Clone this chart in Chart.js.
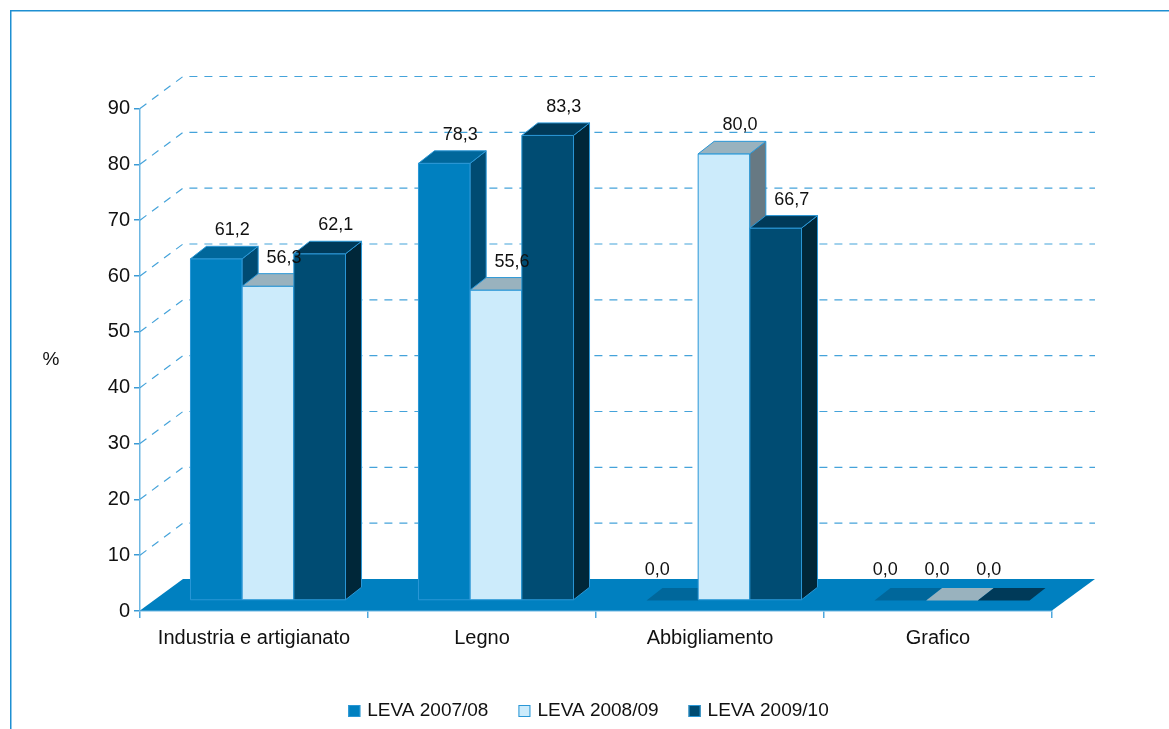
<!DOCTYPE html>
<html lang="it">
<head>
<meta charset="utf-8">
<title>LEVA per settore</title>
<script src="https://cdn.jsdelivr.net/npm/chart.js@4.4.1/dist/chart.umd.min.js"></script>
<style>
  html, body { margin: 0; padding: 0; background: #fff; }
  #wrap { width: 1169px; height: 729px; }
</style>
</head>
<body>
<div id="wrap"><canvas id="chart" width="1169" height="729"></canvas></div>
<script>
// ---- data ----
const categories = ['Industria e artigianato', 'Legno', 'Abbigliamento', 'Grafico'];
const leva0708 = [61.2, 78.3, 0.0, 0.0];
const leva0809 = [56.3, 55.6, 80.0, 0.0];
const leva0910 = [62.1, 83.3, 66.7, 0.0];
const seriesNames = ['LEVA 2007/08', 'LEVA 2008/09', 'LEVA 2009/10'];
const yAxisLabel = '%';

// ---- look ----
// face colours of each series: front, top, right side
const palette = [
  { front: '#0080C0', top: '#00679B', side: '#004B72' },
  { front: '#CCEBFB', top: '#99B2BE', side: '#677983' },
  { front: '#004C73', top: '#003A59', side: '#002739' }
];
const FONT = '"Liberation Sans", Arial, sans-serif';
const TEXT = '#111111';
const EDGE = '#2A97D6';
const FLOOR = { dx: 43, dy: -32 };        // depth of the floor / back wall
const BAR_SHIFT = { dx: 14, dy: -10.5 };  // bars stand in the middle of the depth
const BAR_DEPTH = { dx: 16, dy: -12.5 };  // thickness of each bar

function fmt(v) { return v.toFixed(1).replace('.', ','); }

function poly(c, pts, fill, stroke) {
  c.beginPath();
  c.moveTo(pts[0][0], pts[0][1]);
  for (let k = 1; k < pts.length; k++) c.lineTo(pts[k][0], pts[k][1]);
  c.closePath();
  c.fillStyle = fill;
  c.fill();
  if (stroke) { c.strokeStyle = stroke; c.stroke(); }
}

// Draws the pseudo-3D scene (back wall grid, floor, boxes, value labels)
// from the bar elements that Chart.js laid out on its scales.
const scene3d = {
  id: 'scene3d',
  beforeDraw(chart) {
    const c = chart.ctx;
    c.save();
    c.fillStyle = '#ffffff';
    c.fillRect(0, 0, chart.width, chart.height);
    c.strokeStyle = '#1E8FD2';
    c.lineWidth = 1.5;
    c.strokeRect(10.75, 10.75, chart.width + 20, chart.height + 20);
    c.restore();
  },
  beforeDatasetsDraw(chart) {
    const c = chart.ctx, ys = chart.scales.y;
    const L = chart.chartArea.left, R = chart.chartArea.right;
    const y0 = ys.getPixelForValue(0);
    c.save();

    // dashed grid on the left and back walls
    c.strokeStyle = '#45A3DA';
    c.lineWidth = 1.2;
    c.setLineDash([8, 7]);
    ys.ticks.forEach(t => {
      if (t.value === 0) return;
      const py = ys.getPixelForValue(t.value);
      c.beginPath();
      c.moveTo(L, py);
      c.lineTo(L + FLOOR.dx, py + FLOOR.dy);
      c.lineTo(R + FLOOR.dx, py + FLOOR.dy);
      c.stroke();
    });
    c.setLineDash([]);

    // floor
    poly(c, [[L, y0 - 0.5], [L + FLOOR.dx, y0 + FLOOR.dy], [R + FLOOR.dx, y0 + FLOOR.dy], [R, y0 - 0.5]], palette[0].front);

    // boxes, left to right so each hides its neighbour's side
    const items = [];
    chart.data.datasets.forEach((ds, d) => {
      chart.getDatasetMeta(d).data.forEach((el, i) => items.push({ el, d, v: ds.data[i] }));
    });
    items.sort((a, b) => a.el.x - b.el.x);

    c.lineWidth = 1;
    c.lineJoin = 'round';
    items.forEach(({ el, d, v }) => {
      const p = palette[d];
      const hw = el.width / 2;
      const x0 = el.x - hw + BAR_SHIFT.dx, x1 = el.x + hw + BAR_SHIFT.dx;
      const ft = el.y + BAR_SHIFT.dy, fb = el.base + BAR_SHIFT.dy;
      const bx = BAR_DEPTH.dx, by = BAR_DEPTH.dy;
      const solid = fb - ft > 0.5;
      const edge = solid ? EDGE : null;
      if (solid) {
        poly(c, [[x0, ft], [x1, ft], [x1, fb], [x0, fb]], p.front, edge);
        poly(c, [[x1, ft], [x1 + bx, ft + by], [x1 + bx, fb + by], [x1, fb]], p.side, edge);
      }
      poly(c, [[x0, ft], [x0 + bx, ft + by], [x1 + bx, ft + by], [x1, ft]], p.top, edge);
    });

    // value labels
    c.fillStyle = TEXT;
    c.font = '18px ' + FONT;
    c.textAlign = 'center';
    c.textBaseline = 'middle';
    items.forEach(({ el, v }) => {
      const fx = el.x + BAR_SHIFT.dx, ft = el.y + BAR_SHIFT.dy;
      let lx, ly;
      if (v > 0) { lx = fx + BAR_DEPTH.dx; ly = ft + BAR_DEPTH.dy - 16; }
      else { lx = fx - 15; ly = ft - 30; }
      c.fillText(fmt(v), lx, ly);
    });

    c.restore();
    return false;
  },
  afterDraw(chart) {
    const c = chart.ctx, ys = chart.scales.y;
    c.save();
    // axis title
    c.fillStyle = TEXT;
    c.font = '19px ' + FONT;
    c.textAlign = 'center';
    c.textBaseline = 'middle';
    c.fillText(yAxisLabel, 51, (ys.getPixelForValue(40) + ys.getPixelForValue(50)) / 2);

    // legend
    c.font = '19px ' + FONT;
    c.textAlign = 'left';
    const box = 12, gapText = 7, gapItem = 30;
    const ds = chart.data.datasets;
    const widths = ds.map(s => box + gapText + c.measureText(s.label).width);
    const total = widths.reduce((a, b) => a + b, 0) + gapItem * (ds.length - 1);
    let x = chart.width / 2 + 4 - total / 2;
    const yc = 711;
    ds.forEach((s, k) => {
      c.fillStyle = palette[k].front;
      c.fillRect(x, yc - box / 2, box, box);
      c.strokeStyle = EDGE;
      c.lineWidth = 1;
      c.strokeRect(x + 0.5, yc - box / 2 + 0.5, box - 1, box - 1);
      c.fillStyle = TEXT;
      c.fillText(s.label, x + box + gapText, yc);
      x += widths[k] + gapItem;
    });
    c.restore();
  }
};

const seriesData = [leva0708, leva0809, leva0910];

new Chart(document.getElementById('chart'), {
  type: 'bar',
  data: {
    labels: categories,
    datasets: seriesNames.map((name, k) => ({
      label: name,
      data: seriesData[k],
      backgroundColor: palette[k].front,
      borderColor: EDGE
    }))
  },
  options: {
    responsive: false,
    animation: false,
    devicePixelRatio: 1,
    events: [],
    layout: { padding: { left: 20, right: 117, top: 108.5, bottom: 58 } },
    datasets: { bar: { categoryPercentage: 0.68, barPercentage: 1 } },
    plugins: { legend: { display: false }, tooltip: { enabled: false } },
    scales: {
      x: {
        grid: { offset: true, drawOnChartArea: false, tickLength: 7, color: '#4FA8DD', lineWidth: 1.5 },
        border: { color: '#6CB6E2', width: 1.5 },
        ticks: { color: TEXT, font: { family: FONT, size: 20 }, padding: 8, maxRotation: 0 },
        afterFit(s) { s.height = 60; }
      },
      y: {
        min: 0,
        max: 90,
        ticks: { stepSize: 10, color: TEXT, font: { family: FONT, size: 20 }, padding: 4 },
        grid: { drawOnChartArea: false, tickLength: 6, color: '#3A9AD5', lineWidth: 1.5 },
        border: { color: '#6CB6E2', width: 1.5 },
        afterFit(s) { s.width = 120; }
      }
    }
  },
  plugins: [scene3d]
});
</script>
</body>
</html>
